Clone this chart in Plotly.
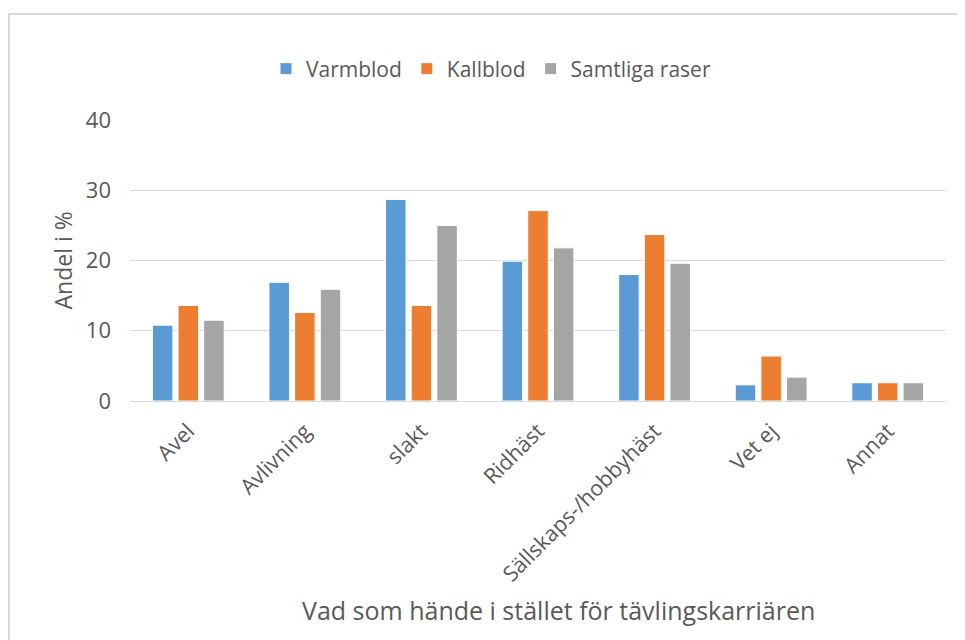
import plotly.graph_objects as go

# Data
categories = ["Avel", "Avlivning", "slakt", "Ridhäst", "Sällskaps-/hobbyhäst", "Vet ej", "Annat"]
varmblod = [10.8, 16.9, 28.7, 19.9, 18.0, 2.3, 2.6]
kallblod = [13.6, 12.6, 13.6, 27.1, 23.7, 6.4, 2.6]
samtliga = [11.5, 15.9, 25.0, 21.8, 19.6, 3.4, 2.6]
y_ticks = [0, 10, 20, 30, 40]

COLORS = {
    'Varmblod': '#5B9BD5',
    'Kallblod': '#ED7D31',
    'Samtliga raser': '#A5A5A5',
}
TEXT = '#595959'
FONT = 'Open Sans'

# page body has an 8px margin, so the figure is placed at (8, 8)
OFF = 8
PLOT_L, PLOT_R, PLOT_T, PLOT_B = 130, 946, 120, 401
PW, PH = PLOT_R - PLOT_L, PLOT_B - PLOT_T


def px_x(px):
    return (px - PLOT_L) / PW


def px_y(py):
    return (PLOT_B - py) / PH


fig = go.Figure()

for name, values in [('Varmblod', varmblod), ('Kallblod', kallblod), ('Samtliga raser', samtliga)]:
    fig.add_trace(
        go.Bar(
            x=categories,
            y=values,
            name=name,
            marker=dict(color=COLORS[name], line=dict(color='white', width=1)),
        )
    )

fig.update_layout(
    width=965,
    height=640,
    margin=dict(l=PLOT_L - OFF, r=965 - PLOT_R + OFF, t=PLOT_T - OFF, b=640 - PLOT_B + OFF),
    plot_bgcolor='white',
    paper_bgcolor='white',
    barmode='group',
    bargap=0.34,
    bargroupgap=0.2,
    font=dict(family=FONT, color=TEXT, size=20),
    showlegend=True,
    legend=dict(
        orientation='h',
        xanchor='center',
        x=px_x(491),
        yanchor='middle',
        y=px_y(69),
        font=dict(size=21, color=TEXT),
        itemwidth=30,
        traceorder='normal',
    ),
    xaxis=dict(
        tickangle=-45,
        showgrid=False,
        showline=True,
        linecolor='#D9D9D9',
        linewidth=1,
        ticks='',
        ticklabelstandoff=8,
        tickfont=dict(size=21.5, color=TEXT),
    ),
    yaxis=dict(
        range=[0, 40],
        tickvals=y_ticks,
        showgrid=True,
        gridcolor='#D9D9D9',
        gridwidth=1,
        zeroline=False,
        showline=False,
        ticks='',
        ticklabelstandoff=18,
        tickfont=dict(size=22, color=TEXT),
    ),
    annotations=[
        dict(
            text='Andel i %',
            xref='paper', yref='paper',
            x=px_x(62), y=0.5,
            xanchor='center', yanchor='middle',
            textangle=-90,
            showarrow=False,
            font=dict(size=23, color=TEXT),
        ),
        dict(
            text='Vad som hände i stället för tävlingskarriären',
            xref='paper', yref='paper',
            x=px_x(558), y=px_y(610),
            xanchor='center', yanchor='middle',
            showarrow=False,
            font=dict(size=25, color=TEXT),
        ),
    ],
    shapes=[
        dict(
            type='rect',
            xref='paper', yref='paper',
            x0=px_x(9), x1=px_x(980),
            y0=px_y(660), y1=px_y(14),
            line=dict(color='#D9D9D9', width=2),
            layer='below',
        )
    ],
)

fig.write_html("out.html")
